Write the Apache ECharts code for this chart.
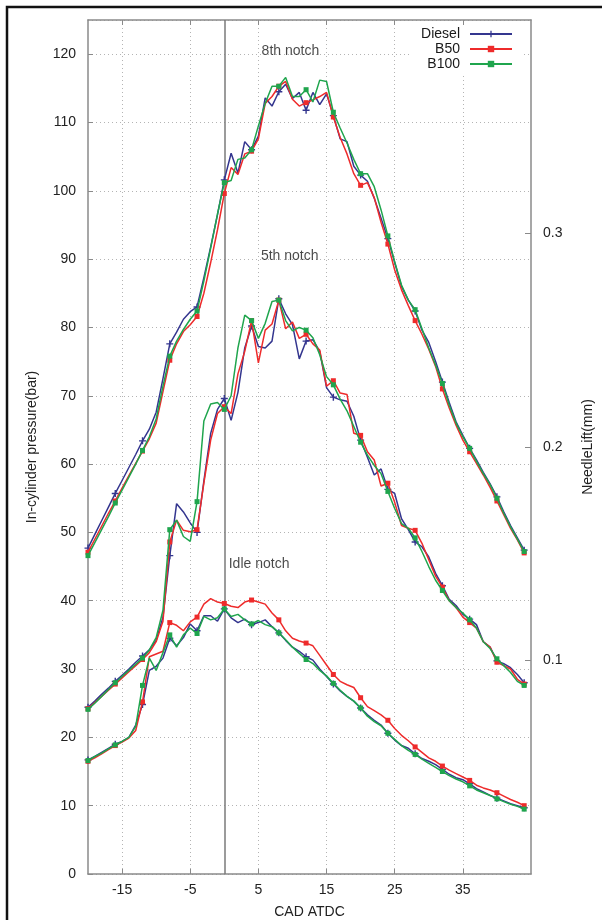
<!DOCTYPE html>
<html>
<head>
<meta charset="utf-8">
<title>In-cylinder pressure vs CAD</title>
<script src="https://cdn.jsdelivr.net/npm/echarts@6/dist/echarts.min.js"></script>
<style>
  html, body { margin: 0; padding: 0; background: #fff; }
  #chart { width: 602px; height: 920px; }
</style>
</head>
<body>
<div id="chart"></div>
<script>
// Crank angle (deg ATDC), shared by every trace
const cad = [-20,-19,-18,-17,-16,-15,-14,-13,-12,-11,-10,-9,-8,-7,-6,-5,-4,-3,-2,-1,
  0,1,2,3,4,5,6,7,8,9,10,11,12,13,14,15,16,17,18,19,20,21,22,23,24,25,26,27,28,29,
  30,31,32,33,34,35,36,37,38,39,40,41,42,43,44];

// 8th notch pressure (bar)
const diesel8 = [47.7,49.7,51.7,53.7,55.7,57.6,59.5,61.4,63.4,65.1,67.6,72.5,77.6,79.3,81.2,82.3,83.0,87.3,91.8,96.5,
  101.6,105.5,102.6,107.2,106.0,108.0,113.6,112.4,114.5,115.6,113.5,114.4,111.8,114.4,112.6,114.2,111.0,107.6,107.2,103.6,
  102.3,101.4,98.9,96.0,93.0,89.5,86.0,84.0,82.4,79.6,77.8,75.0,72.0,69.0,66.2,64.2,62.3,60.6,58.8,57.1,
  55.2,53.0,51.0,49.2,47.4];
const b50_8 = [47.1,49.0,50.9,52.8,54.6,56.5,58.3,60.1,61.9,63.7,66.0,70.6,75.2,77.6,79.4,80.4,81.6,85.0,89.5,94.3,
  99.6,103.4,102.4,105.4,105.8,107.6,112.8,113.8,115.3,116.0,113.4,112.4,112.9,113.3,113.8,114.4,110.8,107.8,105.4,102.5,
  100.8,101.2,99.0,95.4,92.2,88.4,85.5,83.2,81.0,79.0,76.8,74.3,71.0,68.2,65.7,63.5,61.8,60.1,58.4,56.6,
  54.6,52.6,50.6,48.9,47.0];
const b100_8 = [46.6,48.5,50.4,52.3,54.3,56.2,58.1,60.0,62.0,64.0,66.6,71.4,75.8,78.0,79.7,81.2,82.4,86.8,91.6,96.6,
  101.2,101.5,104.6,104.8,106.0,109.5,112.8,115.3,115.3,116.6,113.8,113.8,114.8,113.0,116.2,116.0,111.5,109.2,107.0,104.6,
  102.5,102.5,100.6,97.2,93.4,89.6,86.2,84.0,82.6,79.8,77.0,74.5,71.8,68.6,66.0,64.0,62.3,60.4,58.6,57.0,
  55.0,52.8,50.8,49.0,47.2];

// 5th notch pressure (bar)
const diesel5 = [24.4,25.3,26.3,27.2,28.2,29.1,30.0,31.0,31.9,32.8,34.2,37.6,46.6,54.2,53.0,51.4,50.0,57.5,64.5,68.0,
  69.6,66.4,70.5,77.0,80.2,77.2,77.0,78.0,84.2,82.0,80.4,75.4,78.0,78.2,76.5,71.2,69.8,69.4,69.2,67.0,
  63.5,61.0,58.4,59.3,56.3,55.7,52.0,50.4,48.6,47.9,46.4,44.0,42.2,40.2,39.3,38.0,37.3,36.5,34.0,33.2,
  31.2,30.8,30.2,29.2,28.0];
const b50_5 = [24.2,25.1,26.0,26.9,27.8,28.7,29.6,30.5,31.4,32.4,34.0,37.0,48.6,51.8,50.3,50.1,50.4,57.2,63.5,67.4,
  68.4,67.4,73.2,76.5,81.0,74.8,79.6,80.5,84.0,79.8,80.8,78.4,79.0,77.6,76.7,71.4,72.2,70.4,70.2,64.5,
  64.2,61.8,60.6,56.8,57.2,54.4,51.0,50.6,50.3,48.4,46.0,43.6,42.0,40.0,39.0,37.6,36.8,36.0,34.0,33.2,
  31.0,30.5,30.0,28.5,27.8];
const b100_5 = [24.1,25.0,26.0,27.0,28.0,28.9,29.8,30.7,31.6,32.8,34.6,38.6,50.4,51.8,49.4,48.7,54.5,66.3,68.8,69.0,
  68.0,70.0,77.0,81.8,81.0,78.4,80.6,83.8,84.0,81.0,79.5,80.0,79.6,78.5,76.0,72.8,71.6,69.5,67.8,65.5,
  63.2,61.3,59.8,58.6,56.0,53.5,51.3,50.6,49.2,47.2,45.0,43.0,41.5,40.0,39.0,38.2,37.2,36.0,34.0,33.0,
  31.5,30.5,29.5,28.2,27.6];

// Idle notch pressure (bar)
const dieselIdle = [16.7,17.2,17.8,18.4,19.0,19.4,20.0,21.8,24.8,29.8,30.4,31.6,34.5,33.4,34.6,36.6,35.6,37.8,37.8,37.0,
  38.8,37.5,36.8,37.3,36.5,36.8,37.2,36.2,35.3,34.2,33.2,32.6,31.8,31.3,30.0,28.9,27.8,26.8,26.0,25.3,
  24.3,23.3,22.5,21.8,20.6,19.6,18.8,18.4,17.6,16.9,16.5,16.0,15.3,14.6,14.1,13.8,13.2,12.5,12.0,11.5,
  11.1,10.7,10.3,10.0,9.7];
const b50Idle = [16.5,17.0,17.6,18.2,18.8,19.3,19.9,21.0,25.2,31.8,32.2,32.6,36.8,36.4,35.6,36.9,37.6,39.5,40.3,39.8,
  39.6,39.2,39.0,39.8,40.1,39.8,39.5,38.2,37.2,35.6,34.5,34.1,33.8,33.4,32.0,30.6,29.2,28.2,27.7,27.3,
  25.8,24.5,23.9,23.3,22.5,21.3,20.3,19.5,18.6,17.8,17.0,16.5,15.8,15.2,14.7,14.2,13.7,13.0,12.6,12.3,
  11.9,11.4,10.9,10.5,10.0];
const b100Idle = [16.6,17.2,17.7,18.3,18.9,19.4,20.0,21.6,27.6,31.6,29.8,32.4,35.0,33.2,35.0,36.0,35.2,37.7,37.2,37.5,
  38.8,37.7,38.0,37.2,36.6,37.1,36.5,36.2,35.3,34.3,33.2,32.3,31.4,30.8,29.8,29.0,27.9,26.9,26.0,25.3,
  24.3,23.1,22.3,21.7,20.6,19.7,18.8,18.1,17.5,16.8,16.2,15.6,15.0,14.4,13.9,13.5,12.9,12.3,11.9,11.5,
  11.0,10.6,10.2,9.9,9.5];

// Axis ticks
const xTicks = [-15, -5, 5, 15, 25, 35];
const fuels = ['Diesel', 'B50', 'B100'];

// Notch annotations (data coordinates)
const noteText = ['8th notch', '5th notch', 'Idle notch'];
const noteX = [9.7, 9.6, 5.1];
const noteY = [120.5, 90.5, 45.4];

const FONT = '"Liberation Sans", Arial, Helvetica, sans-serif';
const AXIS_GRAY = '#8a8a8a';
const GRID_GRAY = '#b4b4b4';

const fuelStyle = {
  Diesel: { color: '#34368f', symbol: 'path://M4,0H6V4H10V6H6V10H4V6H0V4H4Z', size: 7 },
  B50:    { color: '#ee2b2b', symbol: 'rect', size: 5 },
  B100:   { color: '#1fa54d', symbol: 'rect', size: 5 }
};
const MARK_EVERY = 4;

function toPairs(ys) {
  return cad.map((x, i) => [x, ys[i]]);
}

function trace(name, ys, z) {
  const s = fuelStyle[name];
  return {
    type: 'line',
    name: name,
    data: toPairs(ys),
    xAxisIndex: 0,
    yAxisIndex: 0,
    symbol: s.symbol,
    symbolSize: (v, p) => (p.dataIndex % MARK_EVERY === 0 ? s.size : 0),
    showSymbol: true,
    showAllSymbol: true,
    lineStyle: { color: s.color, width: 1.5 },
    itemStyle: { color: s.color },
    emphasis: { disabled: true },
    silent: true,
    z: z
  };
}

const series = [
  trace('Diesel', diesel8, 3), trace('B50', b50_8, 4), trace('B100', b100_8, 5),
  trace('Diesel', diesel5, 3), trace('B50', b50_5, 4), trace('B100', b100_5, 5),
  trace('Diesel', dieselIdle, 3), trace('B50', b50Idle, 4), trace('B100', b100Idle, 5)
];

// TDC reference line
series[0].markLine = {
  silent: true,
  symbol: 'none',
  label: { show: false },
  lineStyle: { color: '#7a7a7a', type: 'solid', width: 1.5 },
  data: [{ xAxis: 0 }],
  z: 2
};

// Notch labels
series.push({
  type: 'scatter',
  data: noteX.map((x, i) => [x, noteY[i]]),
  symbolSize: 0,
  silent: true,
  label: {
    show: true,
    position: 'inside',
    formatter: p => noteText[p.dataIndex],
    fontFamily: FONT,
    fontSize: 14,
    color: '#1a1a1a'
  },
  z: 6
});

const chart = echarts.init(document.getElementById('chart'), null, { renderer: 'canvas' });

chart.setOption({
  animation: false,
  backgroundColor: '#fff',
  grid: { left: 88, right: 71, top: 20, bottom: 46, containLabel: false, outerBoundsMode: 'none' },
  legend: {
    data: fuels,
    orient: 'vertical',
    align: 'right',
    right: 81,
    top: 25,
    itemWidth: 42,
    itemHeight: 8,
    itemGap: 1,
    selectedMode: false,
    backgroundColor: '#fff',
    padding: [2, 8, 4, 12],
    textStyle: { fontFamily: FONT, fontSize: 14, color: '#1a1a1a', padding: [0, 5, 0, 0] },
    z: 10
  },
  xAxis: [
    {
      type: 'value',
      min: -20,
      max: 45,
      name: 'CAD ATDC',
      nameLocation: 'middle',
      nameGap: 31,
      nameTextStyle: { fontFamily: FONT, fontSize: 14, color: '#222' },
      axisLine: { show: true, onZero: false, lineStyle: { color: AXIS_GRAY, width: 1.5 } },
      axisTick: { show: true, inside: true, length: 5, customValues: xTicks, lineStyle: { color: AXIS_GRAY } },
      axisLabel: { customValues: xTicks, fontFamily: FONT, fontSize: 14, color: '#222', margin: 9 },
      splitLine: { show: true, lineStyle: { color: GRID_GRAY, type: [1, 3], width: 1 } }
    },
    {
      type: 'value',
      position: 'top',
      min: -20,
      max: 45,
      axisLine: { show: true, onZero: false, lineStyle: { color: AXIS_GRAY, width: 1.5 } },
      axisTick: { show: true, inside: true, length: 5, customValues: xTicks, lineStyle: { color: AXIS_GRAY } },
      axisLabel: { show: false },
      splitLine: { show: false }
    }
  ],
  yAxis: [
    {
      type: 'value',
      min: 0,
      max: 125,
      interval: 10,
      name: 'In-cylinder pressure(bar)',
      nameLocation: 'middle',
      nameGap: 49,
      nameTextStyle: { fontFamily: FONT, fontSize: 14, color: '#222' },
      axisLine: { show: true, onZero: false, lineStyle: { color: AXIS_GRAY, width: 1.5 } },
      axisTick: { show: true, inside: true, length: 5, lineStyle: { color: AXIS_GRAY } },
      axisLabel: { fontFamily: FONT, fontSize: 14, color: '#222', margin: 12, showMaxLabel: false },
      splitLine: { show: true, lineStyle: { color: GRID_GRAY, type: [1, 3], width: 1 } }
    },
    {
      type: 'value',
      position: 'right',
      min: 0,
      max: 0.4,
      interval: 0.1,
      name: 'NeedleLift(mm)',
      nameLocation: 'middle',
      nameGap: 50,
      nameTextStyle: { fontFamily: FONT, fontSize: 14, color: '#222' },
      axisLine: { show: true, onZero: false, lineStyle: { color: AXIS_GRAY, width: 1.5 } },
      axisTick: { show: true, inside: true, length: 6, lineStyle: { color: AXIS_GRAY } },
      axisLabel: {
        fontFamily: FONT, fontSize: 14, color: '#222', margin: 12,
        showMinLabel: false, showMaxLabel: false,
        formatter: v => v.toFixed(1)
      },
      splitLine: { show: false }
    }
  ],
  graphic: [
    {
      type: 'rect',
      silent: true,
      shape: { x: 7, y: 7, width: 640, height: 960 },
      style: { fill: null, stroke: '#111', lineWidth: 2.5 },
      z: 100
    }
  ],
  series: series
});
</script>
</body>
</html>
